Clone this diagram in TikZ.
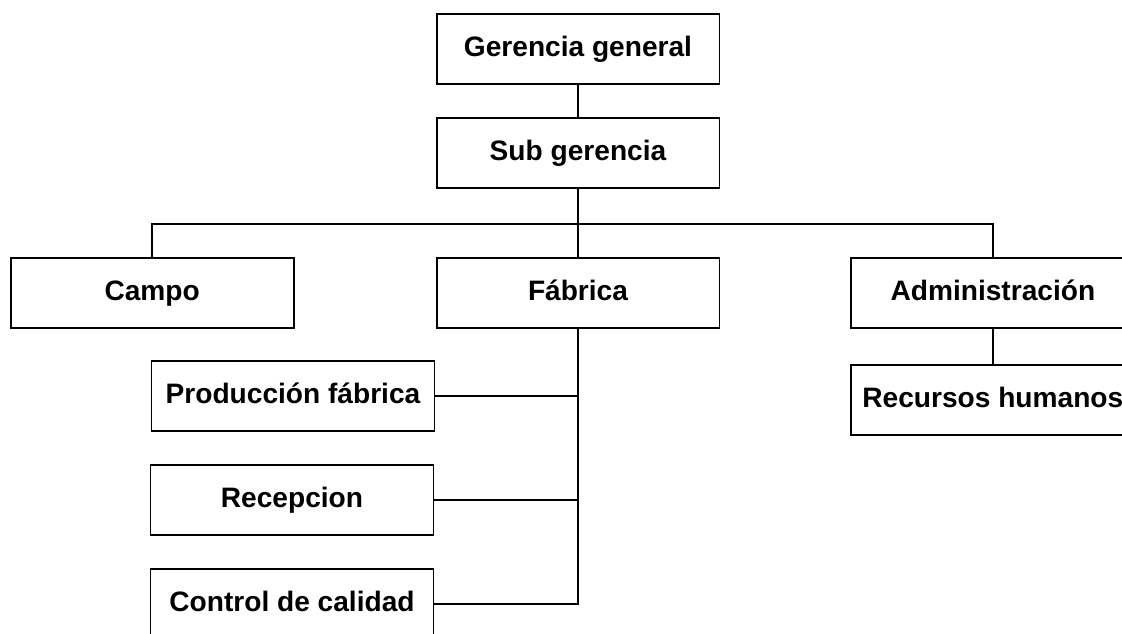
\documentclass[tikz,border=0pt]{standalone}
\usepackage{fontspec}
\setmainfont{Liberation Sans}
\usepackage{tikz}
\usetikzlibrary{positioning}

\begin{document}
\begin{tikzpicture}[x=0.02cm, y=-0.02cm, line width=1.1pt,
                box/.style={draw, rectangle, minimum width=5.66cm, minimum height=1.4cm,
                text height=12pt, text depth=3.5pt,
                font=\fontsize{16}{19}\selectfont\bfseries}]

                \useasboundingbox (0,0) rectangle (1122,633);

                \node[box] (gg) at (578,49) {Gerencia general};
                \node[box, below=0.64cm of gg] (sg) {Sub gerencia};
                \node[box, below=1.36cm of sg] (fab) {Fábrica};
                \node[box, left=2.82cm of fab] (campo) {Campo};
                \node[box, right=2.6cm of fab] (admin) {Administración};
                \node[box, below=0.7cm of admin] (rrhh) {Recursos humanos};

                \node[box] (prod) at (293,396) {Producción fábrica};
                \node[box] (recep) at (292,500) {Recepcion};
                \node[box] (control) at (292,604) {Control de calidad};

                \path (sg.south) ++(0,35) coordinate (bus);

                \draw (gg) -- (sg);
                \draw (sg) -- (fab);
                \draw (campo.north) |- (bus) -| (admin.north);
                \draw (admin) -- (rrhh);

                \draw (fab.south) |- (control.east);
                \draw (prod.east) -- (prod.east -| fab.south);
                \draw (recep.east) -- (recep.east -| fab.south);

            \end{tikzpicture}
\end{document}
